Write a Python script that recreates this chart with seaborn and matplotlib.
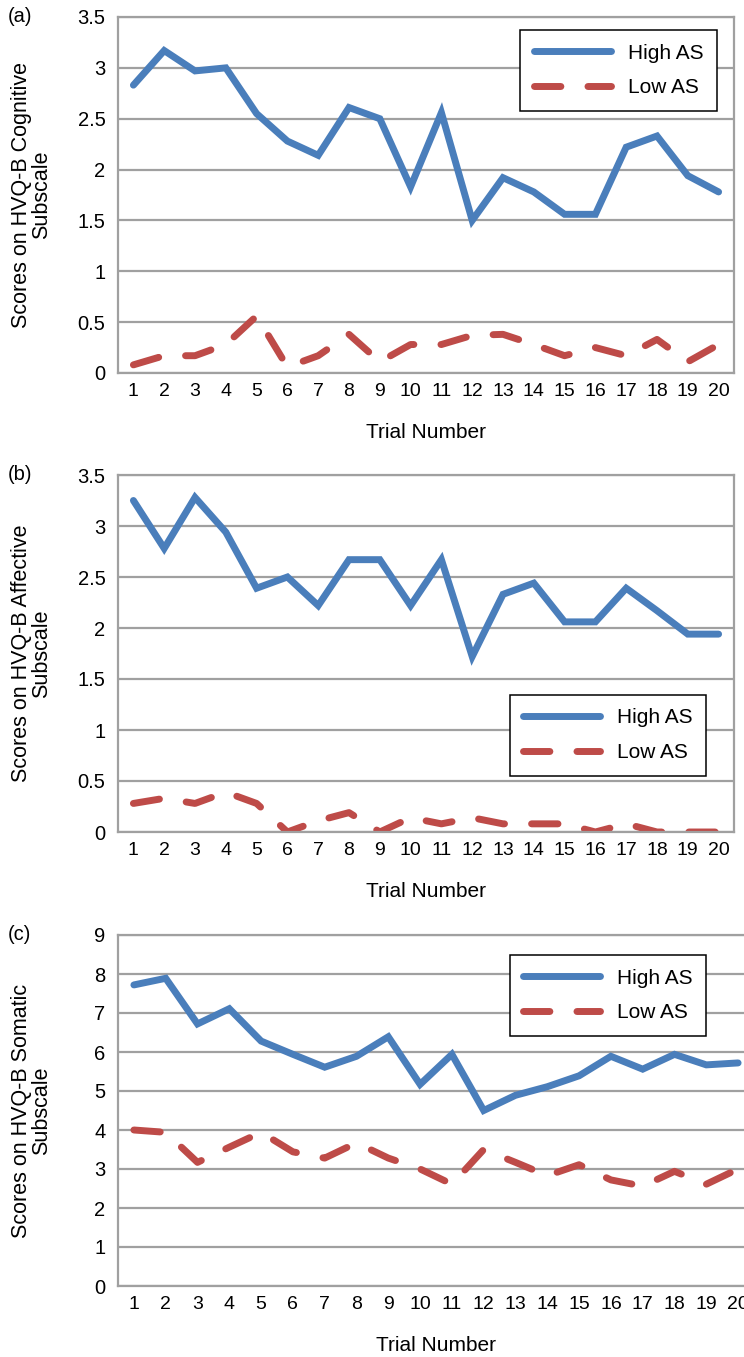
import matplotlib
matplotlib.use("Agg")
import matplotlib.pyplot as plt
import seaborn as sns

# trial numbers
trials = list(range(1, 21))

# (a) cognitive subscale
cog_high = [2.83, 3.17, 2.97, 3.0, 2.55, 2.28, 2.14, 2.61, 2.5, 1.83,
            2.56, 1.5, 1.92, 1.78, 1.56, 1.56, 2.22, 2.33, 1.94, 1.78]
cog_low = [0.08, 0.17, 0.17, 0.28, 0.56, 0.06, 0.17, 0.38, 0.11, 0.28,
           0.28, 0.37, 0.38, 0.28, 0.17, 0.25, 0.17, 0.33, 0.11, 0.28]

# (b) affective subscale
aff_high = [3.25, 2.78, 3.28, 2.94, 2.39, 2.5, 2.22, 2.67, 2.67, 2.22,
            2.67, 1.72, 2.33, 2.44, 2.06, 2.06, 2.39, 2.17, 1.94, 1.94]
aff_low = [0.28, 0.33, 0.28, 0.39, 0.28, 0.0, 0.11, 0.19, 0.0, 0.14,
           0.08, 0.14, 0.08, 0.08, 0.08, 0.0, 0.08, 0.0, 0.0, 0.0]

# (c) somatic subscale
som_high = [7.72, 7.89, 6.72, 7.11, 6.28, 5.94, 5.61, 5.89, 6.39, 5.17,
            5.94, 4.5, 4.89, 5.11, 5.39, 5.89, 5.56, 5.94, 5.67, 5.72]
som_low = [4.0, 3.94, 3.17, 3.56, 3.94, 3.44, 3.28, 3.67, 3.28, 3.0,
           2.61, 3.5, 3.17, 2.83, 3.11, 2.72, 2.56, 2.94, 2.61, 3.0]

panel_tags = ["(a)", "(b)", "(c)"]
y_titles = ["Scores on HVQ-B Cognitive\nSubscale",
            "Scores on HVQ-B Affective\nSubscale",
            "Scores on HVQ-B Somatic\nSubscale"]
y_ticks = [[0, 0.5, 1, 1.5, 2, 2.5, 3, 3.5],
           [0, 0.5, 1, 1.5, 2, 2.5, 3, 3.5],
           list(range(0, 10))]
series_names = ["High AS", "Low AS"]

sns.set_style("white")
plt.rcParams['font.family'] = ['Liberation Sans', 'DejaVu Sans']
plt.rcParams['text.color'] = 'black'
plt.rcParams['axes.labelcolor'] = 'black'

blue = "#4A7EBB"
red = "#BE4B48"
grid_col = "#A0A0A0"

W, H = 744, 1357
fig = plt.figure(figsize=(W / 100, H / 100), dpi=100)

# axes boxes in pixels: left, right, top, bottom
boxes = [(118, 734, 17, 373), (118, 734, 475, 832), (118, 754, 935, 1286)]
legend_pos = [(0.653, 0.963), (0.636, 0.384), (0.616, 0.943)]
tag_y = [17, 475, 935]

data = [(cog_high, cog_low), (aff_high, aff_low), (som_high, som_low)]

for i, (hi, lo) in enumerate(data):
    l, r, t, b = boxes[i]
    ax = fig.add_axes([l / W, 1 - b / H, (r - l) / W, (b - t) / H])

    sns.lineplot(x=trials, y=hi, ax=ax, color=blue, linewidth=5.0,
                 label=series_names[0], solid_capstyle="round",
                 solid_joinstyle="miter")
    sns.lineplot(x=trials, y=lo, ax=ax, color=red, linewidth=5.0,
                 label=series_names[1])
    low_line = ax.lines[-1]
    low_line.set_dashes((3.8, 3.9))
    low_line.set_dash_capstyle("round")

    ax.set_xlim(0.5, 20.5)
    ax.set_ylim(y_ticks[i][0], y_ticks[i][-1])
    ax.set_xticks(trials)
    ax.set_xticklabels([str(v) for v in trials], fontsize=14)
    ax.set_yticks(y_ticks[i])
    ax.set_yticklabels([f"{v:g}" for v in y_ticks[i]], fontsize=14.5)
    ax.yaxis.grid(True, color=grid_col, linewidth=1.6)
    ax.set_axisbelow(True)
    ax.tick_params(axis="y", length=4, width=1.6, color=grid_col, pad=5,
                   labelcolor="black")
    ax.tick_params(axis="x", length=0, pad=7, labelcolor="black")
    for sp in ax.spines.values():
        sp.set_color(grid_col)
        sp.set_linewidth(1.6)

    ax.set_xlabel("Trial Number", fontsize=15)
    ax.xaxis.set_label_coords(0.5, -50 / (b - t))
    ax.xaxis.label.set_va("top")
    ax.set_ylabel(y_titles[i], fontsize=15.5, linespacing=0.95)
    ax.yaxis.set_label_coords((52 - l) / (r - l), 0.5)

    leg = ax.legend(loc="upper left", bbox_to_anchor=legend_pos[i],
                    borderaxespad=0, fontsize=15, handlelength=3.7,
                    handletextpad=0.8, labelspacing=0.75, borderpad=0.65,
                    fancybox=False, framealpha=1, edgecolor="black")
    leg.get_frame().set_linewidth(1.1)

    fig.text(8 / W, 1 - tag_y[i] / H, panel_tags[i], fontsize=14.5,
             va="center", ha="left")

fig.savefig("out.png", dpi=100)
